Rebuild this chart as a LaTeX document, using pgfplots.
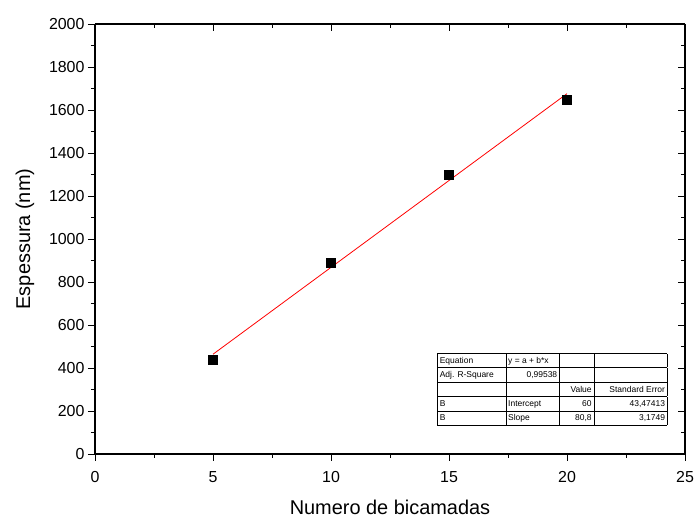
\documentclass[border=0pt]{standalone}
\usepackage{pgfplots}
\pgfplotsset{compat=1.18}
\usepackage{array}
\usepackage{fontspec}
\setmainfont{Liberation Sans}

\begin{document}
\begin{tikzpicture}[x=1bp,y=1bp]
\useasboundingbox (-95,-66) rectangle (600,454);
\begin{axis}[
  at={(0,0)}, anchor=south west,
  scale only axis, width=590bp, height=430bp,
  xmin=0, xmax=25, ymin=0, ymax=2000,
  xtick={0,5,...,25}, ytick={0,200,...,2000},
  minor x tick num=1, minor y tick num=1,
  axis x line*=bottom, axis y line*=left,
  tick align=outside,
  major tick length=7bp, minor tick length=4bp,
  axis line style={line width=1.1pt},
  every tick/.style={black, line width=0.9pt},
  /pgf/number format/assume math mode=true,
  /pgf/number format/1000 sep={},
  tick label style={font=\fontsize{16}{18}\selectfont},
  label style={font=\fontsize{20}{22}\selectfont},
  xlabel={Numero de bicamadas},
  ylabel={Espessura (nm)},
  xticklabel style={yshift=-7bp},
  xlabel style={yshift=-10bp},
  ylabel style={yshift=8bp},
]
\addplot[red, line width=0.8pt] coordinates {(5,464) (20,1676)};
\addplot[only marks, mark=square*, mark size=4.5bp, black] coordinates {
  (5,440) (10,890) (15,1300) (20,1650)};
\node[anchor=north west, inner sep=0pt, font=\fontsize{8.5}{10}\selectfont]
  at (rel axis cs:0.580,0.235) {%
  \setlength\tabcolsep{2bp}\renewcommand\arraystretch{1.4}%
  \begin{tabular}{|p{64bp}|p{49bp}|>{\raggedleft\arraybackslash}p{30bp}|>{\raggedleft\arraybackslash}p{69bp}|}
  \hline
  Equation & y = a + b*x & & \\ \hline
  Adj. R-Square & \hfill 0,99538 & & \\ \hline
   & & Value & Standard Error \\ \hline
  B & Intercept & 60 & 43,47413 \\ \hline
  B & Slope & 80,8 & 3,1749 \\ \hline
  \end{tabular}};
\end{axis}
\begin{axis}[
  at={(0,0)}, anchor=south west,
  scale only axis, width=590bp, height=430bp,
  xmin=0, xmax=25, ymin=0, ymax=2000,
  xtick={0,5,...,25}, ytick={0,200,...,2000},
  minor x tick num=1, minor y tick num=1,
  axis x line*=top, axis y line*=right,
  tick align=inside,
  major tick length=7bp, minor tick length=4bp,
  axis line style={line width=1.1pt},
  every tick/.style={black, line width=0.9pt},
  xticklabels={}, yticklabels={},
]
\end{axis}
\end{tikzpicture}
\end{document}
